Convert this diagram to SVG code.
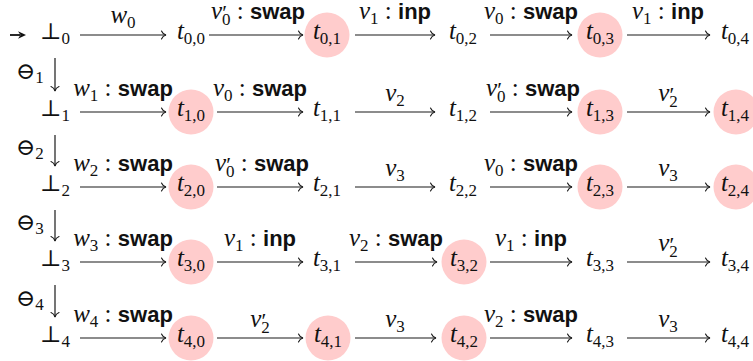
<svg xmlns="http://www.w3.org/2000/svg" width="753" height="361" viewBox="0 0 753 361">
<style>
.bg{fill:#fff}
.m{font-family:"Liberation Serif","DejaVu Serif",serif;font-size:25px;font-style:italic;fill:#111}
.s{font-size:17px;font-style:normal}
.n{font-style:normal}
.pr{font-size:22px;font-style:normal}
.sw{font-family:"Liberation Sans",Arial,sans-serif;font-weight:bold;font-style:normal;font-size:22px}
.sym{font-family:"DejaVu Serif","DejaVu Sans",serif;font-style:normal;font-size:23px}
.hl{fill:#ffcccc}
.ar{stroke:#1a1a1a;stroke-width:1.2;fill:none;marker-end:url(#to)}
</style>
<defs>
<marker id="to" markerUnits="userSpaceOnUse" markerWidth="12" markerHeight="12" viewBox="-6 -6 12 12" refX="0" refY="0" orient="auto" overflow="visible">
<path d="M-4.5,-4 C-3.5,-1.5 -1.2,-0.3 0,0 C-1.2,0.3 -3.5,1.5 -4.5,4" fill="none" stroke="#1a1a1a" stroke-width="1.1" stroke-linecap="round"/>
</marker>
</defs>
<rect class="bg" x="0" y="0" width="753" height="361"/>

<g id="connectors">
<line x1="10" y1="35" x2="20" y2="35" stroke="#111" stroke-width="1.8"/>
<polygon points="26,35 18,31.2 20.5,35 18,38.8" fill="#111"/>
<line class="ar" x1="80" y1="35" x2="166" y2="35"/>
<line class="ar" x1="209" y1="35" x2="303" y2="35"/>
<line class="ar" x1="355" y1="35" x2="435" y2="35"/>
<line class="ar" x1="490" y1="35" x2="572" y2="35"/>
<line class="ar" x1="627" y1="35" x2="710" y2="35"/>
<line class="ar" x1="80" y1="112" x2="166" y2="112"/>
<line class="ar" x1="217" y1="112" x2="303" y2="112"/>
<line class="ar" x1="355" y1="112" x2="435" y2="112"/>
<line class="ar" x1="490" y1="112" x2="572" y2="112"/>
<line class="ar" x1="627" y1="112" x2="710" y2="112"/>
<line class="ar" x1="80" y1="187" x2="166" y2="187"/>
<line class="ar" x1="217" y1="187" x2="303" y2="187"/>
<line class="ar" x1="355" y1="187" x2="435" y2="187"/>
<line class="ar" x1="490" y1="187" x2="572" y2="187"/>
<line class="ar" x1="627" y1="187" x2="710" y2="187"/>
<line class="ar" x1="80" y1="262" x2="166" y2="262"/>
<line class="ar" x1="217" y1="262" x2="303" y2="262"/>
<line class="ar" x1="355" y1="262" x2="437" y2="262"/>
<line class="ar" x1="490" y1="262" x2="572" y2="262"/>
<line class="ar" x1="627" y1="262" x2="710" y2="262"/>
<line class="ar" x1="80" y1="338" x2="166" y2="338"/>
<line class="ar" x1="217" y1="338" x2="303" y2="338"/>
<line class="ar" x1="355" y1="338" x2="436" y2="338"/>
<line class="ar" x1="490" y1="338" x2="572" y2="338"/>
<line class="ar" x1="627" y1="338" x2="710" y2="338"/>
<line class="ar" x1="55" y1="58" x2="55" y2="91"/>
<line class="ar" x1="55" y1="135" x2="55" y2="166"/>
<line class="ar" x1="55" y1="210" x2="55" y2="241"/>
<line class="ar" x1="55" y1="285" x2="55" y2="317"/>

<g class="m" text-anchor="middle">
<text x="123" y="23">w<tspan class="s" dy="5">0</tspan></text>
<text x="258" y="19">v<tspan class="pr" dy="1">′</tspan><tspan class="s" dx="-5" dy="5">0</tspan><tspan class="n" dy="-6"> : </tspan><tspan class="sw">swap</tspan></text>
<text x="395" y="19">v<tspan class="s" dy="5">1</tspan><tspan class="n" dy="-5"> : </tspan><tspan class="sw">inp</tspan></text>
<text x="531" y="19">v<tspan class="s" dy="5">0</tspan><tspan class="n" dy="-5"> : </tspan><tspan class="sw">swap</tspan></text>
<text x="668" y="19">v<tspan class="s" dy="5">1</tspan><tspan class="n" dy="-5"> : </tspan><tspan class="sw">inp</tspan></text>

<text x="123" y="96">w<tspan class="s" dy="5">1</tspan><tspan class="n" dy="-5"> : </tspan><tspan class="sw">swap</tspan></text>
<text x="260" y="96">v<tspan class="s" dy="5">0</tspan><tspan class="n" dy="-5"> : </tspan><tspan class="sw">swap</tspan></text>
<text x="395" y="101">v<tspan class="s" dy="5">2</tspan></text>
<text x="533" y="96">v<tspan class="pr" dy="1">′</tspan><tspan class="s" dx="-5" dy="5">0</tspan><tspan class="n" dy="-6"> : </tspan><tspan class="sw">swap</tspan></text>
<text x="668" y="101">v<tspan class="pr" dy="1">′</tspan><tspan class="s" dx="-5" dy="5">2</tspan></text>

<text x="123" y="171">w<tspan class="s" dy="5">2</tspan><tspan class="n" dy="-5"> : </tspan><tspan class="sw">swap</tspan></text>
<text x="262" y="171">v<tspan class="pr" dy="1">′</tspan><tspan class="s" dx="-5" dy="5">0</tspan><tspan class="n" dy="-6"> : </tspan><tspan class="sw">swap</tspan></text>
<text x="395" y="176">v<tspan class="s" dy="5">3</tspan></text>
<text x="531" y="171">v<tspan class="s" dy="5">0</tspan><tspan class="n" dy="-5"> : </tspan><tspan class="sw">swap</tspan></text>
<text x="668" y="176">v<tspan class="s" dy="5">3</tspan></text>

<text x="123" y="246">w<tspan class="s" dy="5">3</tspan><tspan class="n" dy="-5"> : </tspan><tspan class="sw">swap</tspan></text>
<text x="260" y="246">v<tspan class="s" dy="5">1</tspan><tspan class="n" dy="-5"> : </tspan><tspan class="sw">inp</tspan></text>
<text x="396" y="246">v<tspan class="s" dy="5">2</tspan><tspan class="n" dy="-5"> : </tspan><tspan class="sw">swap</tspan></text>
<text x="531" y="246">v<tspan class="s" dy="5">1</tspan><tspan class="n" dy="-5"> : </tspan><tspan class="sw">inp</tspan></text>
<text x="668" y="251">v<tspan class="pr" dy="1">′</tspan><tspan class="s" dx="-5" dy="5">2</tspan></text>

<text x="123" y="322">w<tspan class="s" dy="5">4</tspan><tspan class="n" dy="-5"> : </tspan><tspan class="sw">swap</tspan></text>
<text x="260" y="327">v<tspan class="pr" dy="1">′</tspan><tspan class="s" dx="-5" dy="5">2</tspan></text>
<text x="395" y="327">v<tspan class="s" dy="5">3</tspan></text>
<text x="531" y="322">v<tspan class="s" dy="5">2</tspan><tspan class="n" dy="-5"> : </tspan><tspan class="sw">swap</tspan></text>
<text x="668" y="327">v<tspan class="s" dy="5">3</tspan></text>
</g>

<g class="m">
<text x="16" y="79"><tspan class="sym">⊖</tspan><tspan class="s" dy="4">1</tspan></text>
<text x="16" y="155"><tspan class="sym">⊖</tspan><tspan class="s" dy="4">2</tspan></text>
<text x="16" y="230"><tspan class="sym">⊖</tspan><tspan class="s" dy="4">3</tspan></text>
<text x="16" y="306"><tspan class="sym">⊖</tspan><tspan class="s" dy="4">4</tspan></text>
</g>
</g>

<g class="m" text-anchor="middle">
<g id="b0"><text x="55" y="39"><tspan class="sym">⊥</tspan><tspan class="s" dy="5">0</tspan></text></g>
<g id="b1"><text x="55" y="116"><tspan class="sym">⊥</tspan><tspan class="s" dy="5">1</tspan></text></g>
<g id="b2"><text x="55" y="191"><tspan class="sym">⊥</tspan><tspan class="s" dy="5">2</tspan></text></g>
<g id="b3"><text x="55" y="266"><tspan class="sym">⊥</tspan><tspan class="s" dy="5">3</tspan></text></g>
<g id="b4"><text x="55" y="342"><tspan class="sym">⊥</tspan><tspan class="s" dy="5">4</tspan></text></g>

<g id="t00"><text x="191" y="39">t<tspan class="s" dy="5">0,0</tspan></text></g>
<g id="t01"><circle class="hl" cx="327" cy="35" r="22.5"/><text x="327" y="39">t<tspan class="s" dy="5">0,1</tspan></text></g>
<g id="t02"><text x="463" y="39">t<tspan class="s" dy="5">0,2</tspan></text></g>
<g id="t03"><circle class="hl" cx="600" cy="35" r="22.5"/><text x="600" y="39">t<tspan class="s" dy="5">0,3</tspan></text></g>
<g id="t04"><text x="735" y="39">t<tspan class="s" dy="5">0,4</tspan></text></g>

<g id="t10"><circle class="hl" cx="191" cy="112" r="22.5"/><text x="191" y="116">t<tspan class="s" dy="5">1,0</tspan></text></g>
<g id="t11"><text x="327" y="116">t<tspan class="s" dy="5">1,1</tspan></text></g>
<g id="t12"><text x="463" y="116">t<tspan class="s" dy="5">1,2</tspan></text></g>
<g id="t13"><circle class="hl" cx="600" cy="112" r="22.5"/><text x="600" y="116">t<tspan class="s" dy="5">1,3</tspan></text></g>
<g id="t14"><circle class="hl" cx="736" cy="112" r="22.5"/><text x="735" y="116">t<tspan class="s" dy="5">1,4</tspan></text></g>

<g id="t20"><circle class="hl" cx="191" cy="187" r="22.5"/><text x="191" y="191">t<tspan class="s" dy="5">2,0</tspan></text></g>
<g id="t21"><text x="327" y="191">t<tspan class="s" dy="5">2,1</tspan></text></g>
<g id="t22"><text x="463" y="191">t<tspan class="s" dy="5">2,2</tspan></text></g>
<g id="t23"><circle class="hl" cx="600" cy="187" r="22.5"/><text x="600" y="191">t<tspan class="s" dy="5">2,3</tspan></text></g>
<g id="t24"><circle class="hl" cx="736" cy="187" r="22.5"/><text x="735" y="191">t<tspan class="s" dy="5">2,4</tspan></text></g>

<g id="t30"><circle class="hl" cx="191" cy="262" r="22.5"/><text x="191" y="266">t<tspan class="s" dy="5">3,0</tspan></text></g>
<g id="t31"><text x="327" y="266">t<tspan class="s" dy="5">3,1</tspan></text></g>
<g id="t32"><circle class="hl" cx="464" cy="262" r="22.5"/><text x="464" y="266">t<tspan class="s" dy="5">3,2</tspan></text></g>
<g id="t33"><text x="600" y="266">t<tspan class="s" dy="5">3,3</tspan></text></g>
<g id="t34"><text x="735" y="266">t<tspan class="s" dy="5">3,4</tspan></text></g>

<g id="t40"><circle class="hl" cx="191" cy="338" r="22.5"/><text x="191" y="342">t<tspan class="s" dy="5">4,0</tspan></text></g>
<g id="t41"><circle class="hl" cx="328" cy="338" r="22.5"/><text x="328" y="342">t<tspan class="s" dy="5">4,1</tspan></text></g>
<g id="t42"><circle class="hl" cx="464" cy="338" r="22.5"/><text x="464" y="342">t<tspan class="s" dy="5">4,2</tspan></text></g>
<g id="t43"><text x="600" y="342">t<tspan class="s" dy="5">4,3</tspan></text></g>
<g id="t44"><text x="735" y="342">t<tspan class="s" dy="5">4,4</tspan></text></g>
</g>
</svg>
